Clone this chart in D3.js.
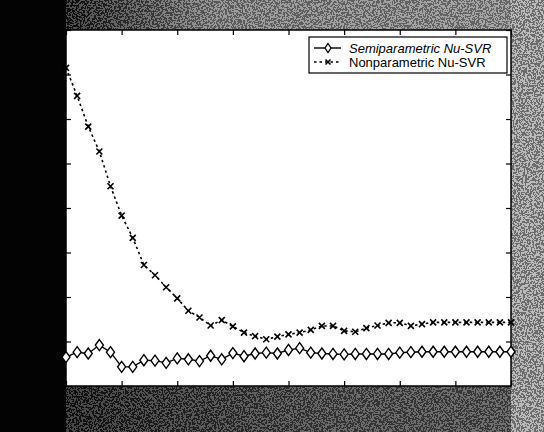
<!DOCTYPE html>
<html>
<head>
<meta charset="utf-8">
<script src="https://cdn.jsdelivr.net/npm/d3@7"></script>
<style>
  body { margin: 0; background: #000; }
  svg { display: block; }
  .chart-label { font-family: "Liberation Sans", Arial, sans-serif; font-size: 13px; fill: #000; }
</style>
</head>
<body>
<svg width="544" height="432"></svg>
<script>
// sample index along the horizontal axis
const steps = d3.range(0, 41);

// values (axis labels are cut off, units are grid steps)
const semiparametric = [
  0.65, 0.76, 0.73, 0.92, 0.76, 0.43, 0.43, 0.58, 0.57, 0.52,
  0.62, 0.60, 0.56, 0.68, 0.60, 0.74, 0.67, 0.73, 0.75, 0.73,
  0.81, 0.85, 0.75, 0.73, 0.72, 0.71, 0.72, 0.72, 0.72, 0.72,
  0.75, 0.76, 0.77, 0.77, 0.77, 0.77, 0.77, 0.77, 0.77, 0.77, 0.77
];
const nonparametric = [
  7.15, 6.52, 5.83, 5.27, 4.49, 3.83, 3.33, 2.72, 2.49, 2.22,
  1.97, 1.69, 1.54, 1.36, 1.48, 1.34, 1.20, 1.12, 1.05, 1.11,
  1.16, 1.20, 1.26, 1.35, 1.35, 1.24, 1.22, 1.30, 1.36, 1.42,
  1.42, 1.35, 1.39, 1.43, 1.43, 1.43, 1.43, 1.43, 1.43, 1.43, 1.43
];
const seriesNames = ["Semiparametric Nu-SVR", "Nonparametric Nu-SVR"];
const xTicks = d3.range(0, 41, 5);
const yTicks = d3.range(0, 9, 1);

// plot box inside the scanned frame
const margin = { top: 30, right: 33, bottom: 46, left: 66 };
const width = 544 - margin.left - margin.right;
const height = 432 - margin.top - margin.bottom;

const svg = d3.select("svg");
const defs = svg.append("defs");

// speckled scan texture for the frame
const grain = defs.append("filter")
  .attr("id", "grain")
  .attr("x", 0).attr("y", 0).attr("width", 1).attr("height", 1);
grain.append("feTurbulence")
  .attr("type", "fractalNoise")
  .attr("baseFrequency", 0.55)
  .attr("numOctaves", 3)
  .attr("seed", 4);
grain.append("feColorMatrix")
  .attr("type", "saturate")
  .attr("values", 0);
const transfer = grain.append("feComponentTransfer");
["feFuncR", "feFuncG", "feFuncB"].forEach(f => {
  transfer.append(f).attr("type", "discrete").attr("tableValues", "0 1");
});
transfer.append("feFuncA").attr("type", "linear").attr("slope", 0).attr("intercept", 1);

function gradient(id, stops) {
  const g = defs.append("linearGradient").attr("id", id);
  stops.forEach(s => g.append("stop").attr("offset", s[0]).attr("stop-color", s[1]));
}
gradient("topBand", [["0", "#050505"], ["0.14", "#151515"], ["0.4", "#7a7a7a"], ["1", "#8a8a8a"]]);
gradient("bottomBand", [["0", "#050505"], ["0.25", "#202020"], ["0.6", "#404040"], ["1", "#4a4a4a"]]);

// frame bands
const bands = [
  { x: 0, y: 0, w: 544, h: margin.top, fill: "url(#topBand)", grain: 0.25 },
  { x: 0, y: margin.top + height, w: 544, h: margin.bottom, fill: "url(#bottomBand)", grain: 0.22 },
  { x: margin.left + width, y: 0, w: margin.right, h: 432, fill: "#9c9c9c", grain: 0.3 },
  { x: 0, y: 0, w: margin.left, h: 432, fill: "#030303", grain: 0 }
];
bands.forEach(b => {
  svg.append("rect")
    .attr("x", b.x).attr("y", b.y).attr("width", b.w).attr("height", b.h)
    .attr("fill", b.fill);
  if (b.grain > 0) {
    svg.append("rect")
      .attr("x", b.x).attr("y", b.y).attr("width", b.w).attr("height", b.h)
      .attr("filter", "url(#grain)")
      .attr("opacity", b.grain);
  }
});

const g = svg.append("g")
  .attr("transform", "translate(" + margin.left + "," + margin.top + ")");

// scales
const x = d3.scaleLinear().domain([0, 40]).range([0, width]);
const y = d3.scaleLinear().domain([0, 8]).range([height, 0]);

// plot background
g.append("rect")
  .attr("width", width)
  .attr("height", height)
  .attr("fill", "#fff");

// inward ticks on all four sides, no labels (cut off in the scan)
const tickLen = 5;
g.append("g")
  .attr("transform", "translate(0," + height + ")")
  .call(d3.axisBottom(x).tickValues(xTicks).tickSize(-tickLen).tickFormat(""));
g.append("g")
  .call(d3.axisTop(x).tickValues(xTicks).tickSize(-tickLen).tickFormat(""));
g.append("g")
  .call(d3.axisLeft(y).tickValues(yTicks).tickSize(-tickLen).tickFormat(""));
g.append("g")
  .attr("transform", "translate(" + width + ",0)")
  .call(d3.axisRight(y).tickValues(yTicks).tickSize(-tickLen).tickFormat(""));
g.selectAll(".domain").remove();
g.selectAll(".tick line").attr("stroke", "#000").attr("stroke-width", 1.2);

// plot box outline
g.append("rect")
  .attr("width", width)
  .attr("height", height)
  .attr("fill", "none")
  .attr("stroke", "#000")
  .attr("stroke-width", 1.5);

const line = d3.line()
  .x((d, i) => x(steps[i]))
  .y(d => y(d));

// nonparametric: dotted line with x marks
g.append("path")
  .datum(nonparametric)
  .attr("d", line)
  .attr("fill", "none")
  .attr("stroke", "#000")
  .attr("stroke-width", 1.6)
  .attr("stroke-dasharray", "2.5,3");

const cross = 3;
g.selectAll(".xmark")
  .data(nonparametric)
  .enter()
  .append("path")
  .attr("class", "xmark")
  .attr("d", (d, i) => {
    const cx = x(steps[i]), cy = y(d);
    return "M" + (cx - cross) + "," + (cy - cross) + "L" + (cx + cross) + "," + (cy + cross) +
      "M" + (cx - cross) + "," + (cy + cross) + "L" + (cx + cross) + "," + (cy - cross);
  })
  .attr("stroke", "#000")
  .attr("stroke-width", 1.6);

// semiparametric: solid line with diamonds
g.append("path")
  .datum(semiparametric)
  .attr("d", line)
  .attr("fill", "none")
  .attr("stroke", "#000")
  .attr("stroke-width", 1.4);

const dw = 4, dh = 5.5;
function diamond(cx, cy, sx, sy) {
  return "M" + cx + "," + (cy - sy) + "L" + (cx + sx) + "," + cy +
    "L" + cx + "," + (cy + sy) + "L" + (cx - sx) + "," + cy + "Z";
}
g.selectAll(".diamond")
  .data(semiparametric)
  .enter()
  .append("path")
  .attr("class", "diamond")
  .attr("d", (d, i) => diamond(x(steps[i]), y(d), dw, dh))
  .attr("fill", "#fff")
  .attr("stroke", "#000")
  .attr("stroke-width", 1.4);

// legend
const legend = svg.append("g")
  .attr("transform", "translate(309,37)");
legend.append("rect")
  .attr("width", 198)
  .attr("height", 36)
  .attr("fill", "#fff")
  .attr("stroke", "#000")
  .attr("stroke-width", 1.2);

const rows = legend.selectAll(".legend-row")
  .data(seriesNames)
  .enter()
  .append("g")
  .attr("class", "legend-row")
  .attr("transform", (d, i) => "translate(0," + (11 + i * 14) + ")");

rows.append("line")
  .attr("x1", 5)
  .attr("x2", 32)
  .attr("stroke", "#000")
  .attr("stroke-width", (d, i) => i === 0 ? 1.4 : 1.6)
  .attr("stroke-dasharray", (d, i) => i === 0 ? null : "2.5,3");

rows.filter((d, i) => i === 0)
  .append("path")
  .attr("d", diamond(19, 0, 3, 4.5))
  .attr("fill", "#fff")
  .attr("stroke", "#000")
  .attr("stroke-width", 1.3);

rows.filter((d, i) => i === 1)
  .append("path")
  .attr("d", "M16.5,-2.5L21.5,2.5M16.5,2.5L21.5,-2.5")
  .attr("stroke", "#000")
  .attr("stroke-width", 1.5);

rows.append("text")
  .attr("class", "chart-label")
  .attr("x", 40)
  .attr("y", 4.5)
  .style("font-style", (d, i) => i === 0 ? "italic" : "normal")
  .text(d => d);
</script>
</body>
</html>
